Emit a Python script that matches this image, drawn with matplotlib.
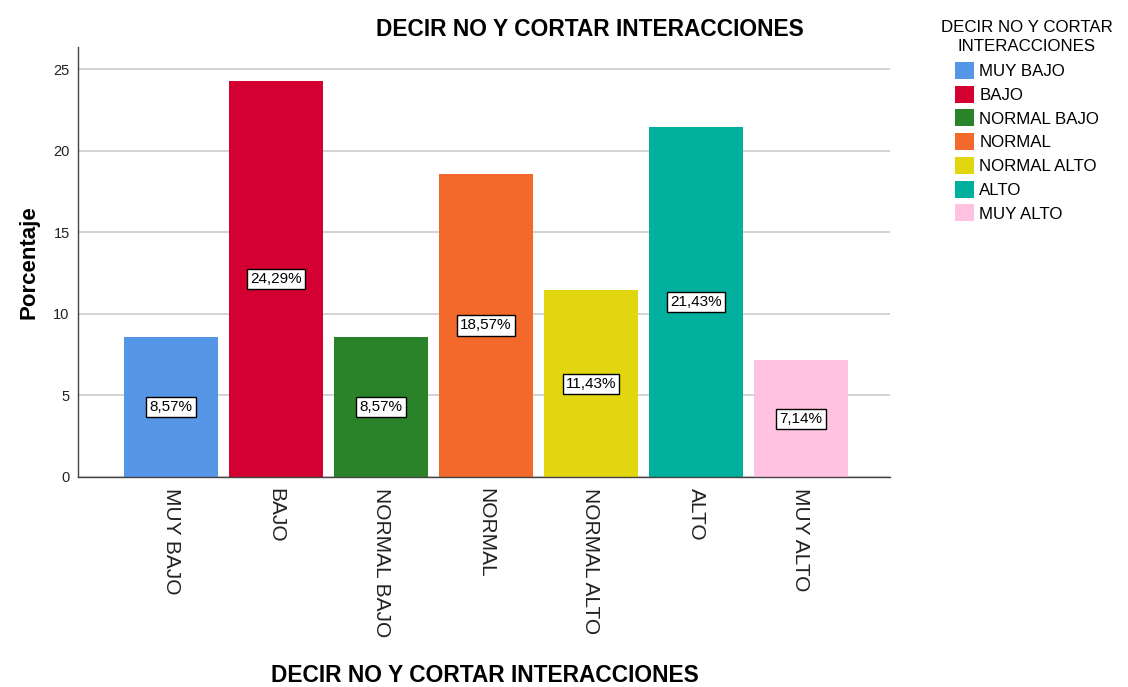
import matplotlib
matplotlib.use("Agg")
import matplotlib.pyplot as plt
from matplotlib.patches import Patch

categories = ["MUY BAJO", "BAJO", "NORMAL BAJO", "NORMAL", "NORMAL ALTO", "ALTO", "MUY ALTO"]
values = [8.57, 24.29, 8.57, 18.57, 11.43, 21.43, 7.14]
labels = ["8,57%", "24,29%", "8,57%", "18,57%", "11,43%", "21,43%", "7,14%"]
colors = ["#5597E6", "#D50032", "#2A8229", "#F2692B", "#E2D70F", "#00B09C", "#FFC2E0"]
yticks = [0, 5, 10, 15, 20, 25]
title = "DECIR NO Y CORTAR INTERACCIONES"

plt.rcParams['font.family'] = ['Liberation Sans', 'DejaVu Sans']

fig = plt.figure(figsize=(11.28, 6.87), dpi=100)
ax = fig.add_axes([78/1128, 1-477/687, (890-78)/1128, (477-47)/687])

x = list(range(len(categories)))
ax.bar(x, values, width=0.895, color=colors, zorder=2)
for xi, v, lab in zip(x, values, labels):
    ax.text(xi, v/2, lab, ha='center', va='center', fontsize=11, zorder=3,
            bbox=dict(boxstyle='square,pad=0.2', fc='white', ec='black', lw=1))

ax.set_xlim(-0.886, 6.848)
ax.set_ylim(0, 26.35)
ax.set_yticks(yticks)
ax.set_yticklabels([str(t) for t in yticks], fontsize=10.5, color='#222222')
ax.set_xticks(x)
ax.set_xticklabels(categories, rotation=-90, fontsize=15, va='top', ha='center', color='#222222')
ax.tick_params(axis='x', length=0, pad=8)
ax.tick_params(axis='y', length=0, pad=6)
ax.yaxis.grid(True, color='#cccccc', lw=1.2, zorder=0)
for s in ['top', 'right']:
    ax.spines[s].set_visible(False)
for s in ['left', 'bottom']:
    ax.spines[s].set_color('#444444')
    ax.spines[s].set_linewidth(1)

ax.set_ylabel("Porcentaje", fontsize=16, fontweight='bold', labelpad=10)
fig.text(590/1128, 1-29/687, title, ha='center', va='center', fontsize=16.4, fontweight='bold')
fig.text(485/1128, 1-676/687, title, ha='center', va='center', fontsize=16.4, fontweight='bold')

handles = [Patch(facecolor=c, edgecolor='none') for c in colors]
leg = fig.legend(handles, categories, loc='upper left', bbox_to_anchor=(941/1128, 1-20/687),
                 frameon=False, title="DECIR NO Y CORTAR\nINTERACCIONES", fontsize=12.2,
                 title_fontsize=12.2, handlelength=1.15, handleheight=1.15, handletextpad=0.3,
                 labelspacing=0.39, borderaxespad=0, borderpad=0)
leg.get_title().set_multialignment('center')
leg.get_title().set_linespacing(1.3)
leg._legend_box.sep = 6

fig.savefig("out.png", dpi=100)
